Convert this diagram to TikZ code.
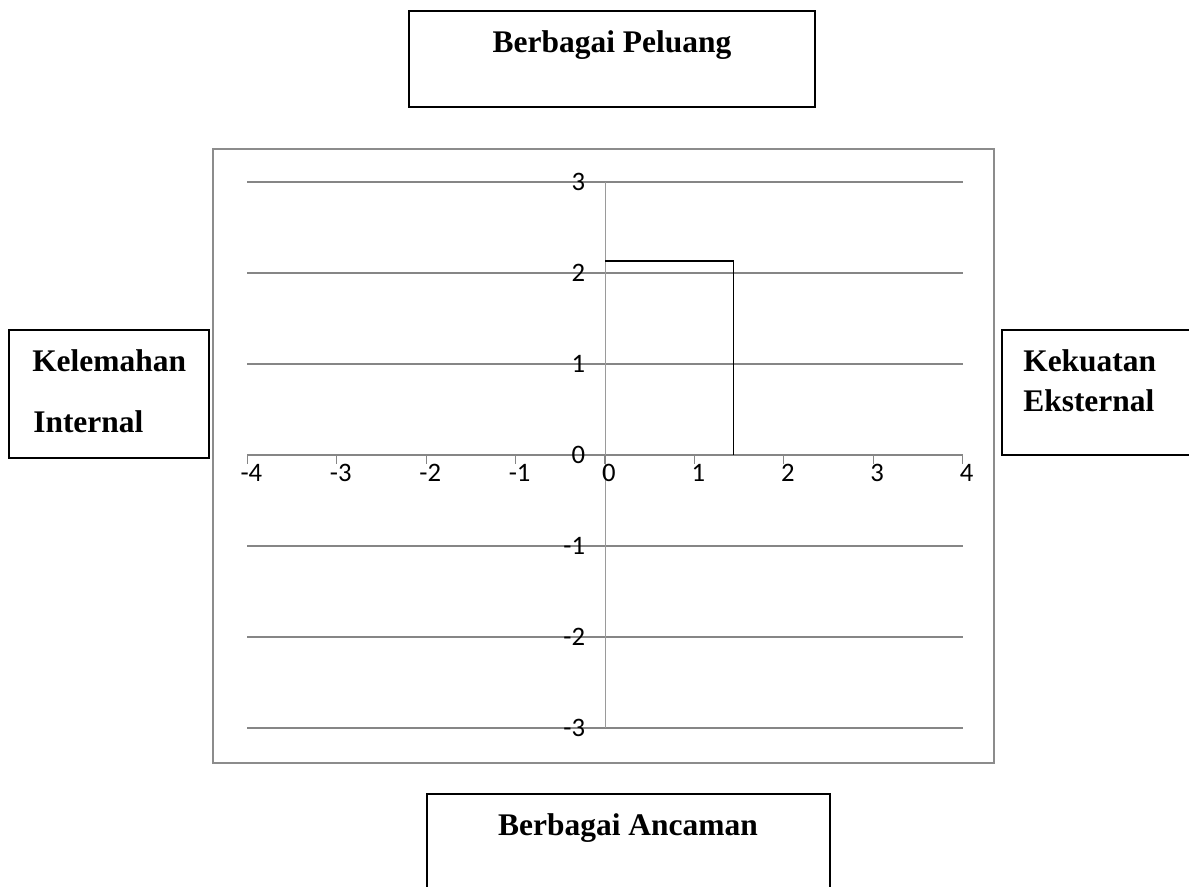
\documentclass[tikz,border=0pt]{standalone}
\usepackage{fontspec}
\setmainfont{Liberation Serif}
\newfontfamily\chartfont{Carlito}
\definecolor{gridgray}{HTML}{868686}
\definecolor{framegray}{HTML}{8C8C8C}
\definecolor{axisgray}{HTML}{9A9A9A}
\begin{document}
\begin{tikzpicture}[x=0.75pt,y=-0.75pt,
    labelbox/.style={draw=black,line width=1.5pt},
    boxtext/.style={font=\fontsize{23.6}{28}\selectfont\bfseries,inner sep=0pt},
    ticktext/.style={font=\chartfont\fontsize{20}{24}\selectfont,inner sep=0pt},
    gridline/.style={draw=gridgray,line width=1pt}]
  \useasboundingbox (0,0) rectangle (1189,887);
  % kotak label
  \draw[labelbox] (409,11) rectangle (815,107);
  \draw[labelbox] (9,330) rectangle (209,458);
  \draw[labelbox] (1002,330) rectangle (1195,455);
  \draw[labelbox] (427,794) rectangle (830,895);
  \node[boxtext,anchor=base] (peluang) at (612,53) {Berbagai Peluang};
  \node[boxtext,anchor=base west] (kelemahan) at (32,372) {Kelemahan};
  \node[boxtext,anchor=base west] (internal) at (33,433) {Internal};
  \node[boxtext,anchor=base west] (kekuatan) at (1023,372) {Kekuatan};
  \node[boxtext,anchor=base west] (eksternal) at (1023,412) {Eksternal};
  \node[boxtext,anchor=base] (ancaman) at (628,835) {Berbagai Ancaman};
  % bingkai grafik
  \draw[framegray,line width=1pt] (213,149) rectangle (994,763);
  \begin{scope}[shift={(605,455)},x=67.05pt,y=68.25pt]
    \foreach \j in {-3,...,3}
      \draw[gridline] (-4,\j) -- (4,\j);
    \draw[axisgray,line width=0.75pt] (0,-3) -- (0,3);
    \foreach \i in {-4,...,4} {
      \draw[gridline] (\i,0) -- (\i,-0.1);
      \node[ticktext,xshift=3pt] (x\i) at (\i,-0.2) {\i};
    }
    \foreach \j in {-3,...,3}
      \node[ticktext,anchor=east] (y\j) at (-0.22,\j) {\j};
    \draw[line width=1pt] (0,2.13) -- (1.44,2.13) -- (1.44,0);
  \end{scope}
\end{tikzpicture}
\end{document}
